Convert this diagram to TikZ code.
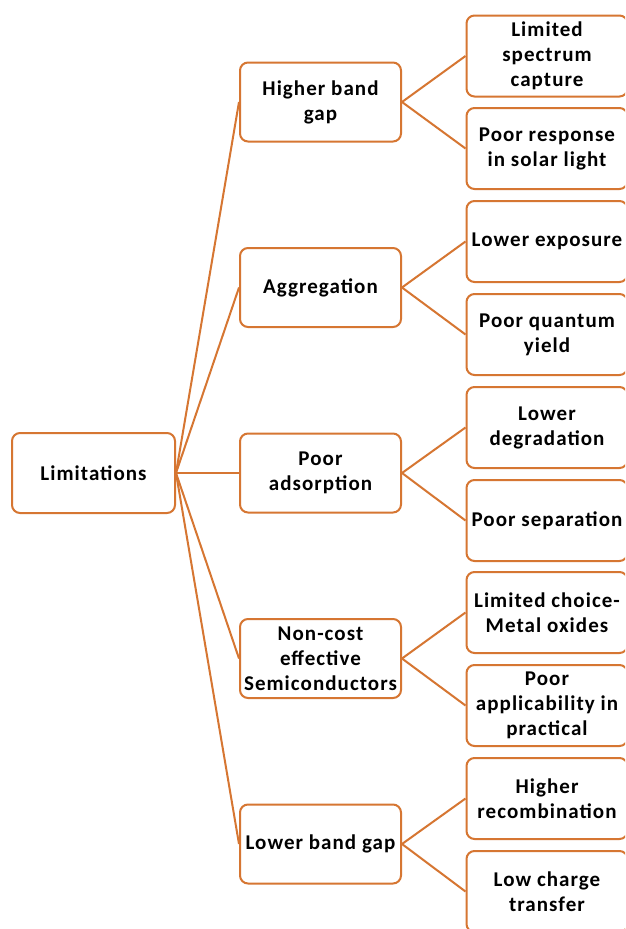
\documentclass[tikz,border=0pt]{standalone}
\usepackage{fontspec}
\setmainfont{Carlito}[LetterSpace=5]
\definecolor{boxorange}{RGB}{214,118,50}

\begin{document}
\begin{tikzpicture}[x=1pt,y=-1pt]
\tikzstyle{every node}+=[inner sep=2pt]
\tikzstyle{limbox}=[draw=boxorange, line width=2pt, rounded corners=8pt, fill=white,
  minimum width=161pt, align=center, font=\fontsize{21}{25}\selectfont\bfseries]
\tikzstyle{link}=[draw=boxorange, line width=2pt]
\useasboundingbox (0,0) rectangle (625,929);
\clip (0,0) rectangle (625,929);
\fill [white] (0,0) rectangle (625,929);
% root
\node [limbox, minimum width=163pt, minimum height=80pt] (lim) at (93.5,473) {Limitations};
% second level
\node [limbox, minimum height=79pt] (hbg) at (320.5,102) {Higher band\\gap};
\node [limbox, minimum height=79pt] (agg) at (320.5,287.5) {Aggregation};
\node [limbox, minimum height=79pt] (pad) at (320.5,473) {Poor\\adsorption};
\node [limbox, minimum height=79pt] (ncs) at (320.5,658.5) {Non-cost\\effective\\Semiconductors};
\node [limbox, minimum height=79pt] (lbg) at (320.5,844) {Lower band gap};
% third level
\node [limbox, minimum height=81pt] (lsc) at (547,56) {Limited\\spectrum\\capture};
\node [limbox, minimum height=81pt] (prs) at (547,148.5) {Poor response\\in solar light};
\node [limbox, minimum height=81pt] (lex) at (547,241.5) {Lower exposure};
\node [limbox, minimum height=81pt] (pqy) at (547,334.5) {Poor quantum\\yield};
\node [limbox, minimum height=81pt] (ldg) at (547,427.5) {Lower\\degradation};
\node [limbox, minimum height=81pt] (psp) at (547,520.5) {Poor separation};
\node [limbox, minimum height=81pt] (lcm) at (547,612.5) {Limited choice-\\Metal oxides};
\node [limbox, minimum height=81pt] (pap) at (547,705.5) {Poor\\applicability in\\practical};
\node [limbox, minimum height=81pt] (hrc) at (547,798.5) {Higher\\recombination};
\node [limbox, minimum height=81pt] (lct) at (547,891.5) {Low charge\\transfer};
% links
\draw [link] (lim.east) -- (hbg.west);
\draw [link] (lim.east) -- (agg.west);
\draw [link] (lim.east) -- (pad.west);
\draw [link] (lim.east) -- (ncs.west);
\draw [link] (lim.east) -- (lbg.west);
\draw [link] (hbg.east) -- (lsc.west);
\draw [link] (hbg.east) -- (prs.west);
\draw [link] (agg.east) -- (lex.west);
\draw [link] (agg.east) -- (pqy.west);
\draw [link] (pad.east) -- (ldg.west);
\draw [link] (pad.east) -- (psp.west);
\draw [link] (ncs.east) -- (lcm.west);
\draw [link] (ncs.east) -- (pap.west);
\draw [link] (lbg.east) -- (hrc.west);
\draw [link] (lbg.east) -- (lct.west);
\end{tikzpicture}
\end{document}
